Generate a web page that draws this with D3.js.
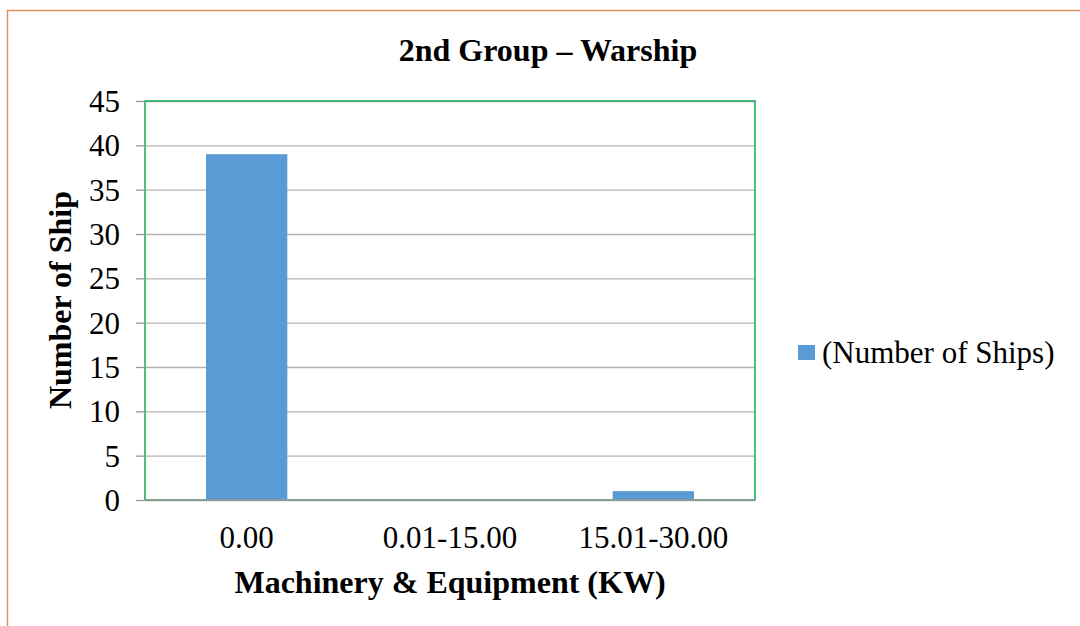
<!DOCTYPE html>
<html lang="en">
<head>
<meta charset="UTF-8">
<title>2nd Group - Warship</title>
<style>
  body { margin: 0; background: #fff; }
  svg text { font-family: "Liberation Serif", "Times New Roman", serif; fill: #000; }
  .grid line { stroke: #b3b3b3; stroke-width: 1.3; }
  .grid path { display: none; }
  .yaxis path { display: none; }
  .yaxis line { stroke: #9a9a9a; stroke-width: 1.3; }
  .xaxis path, .xaxis line { display: none; }
</style>
</head>
<body>
<div id="chart"></div>
<script src="https://cdnjs.cloudflare.com/ajax/libs/d3/7.8.5/d3.min.js"></script>
<script>
var categories = ["0.00", "0.01-15.00", "15.01-30.00"];
var ships = [39, 0, 1];
var yTicks = [0, 5, 10, 15, 20, 25, 30, 35, 40, 45];
var seriesName = "(Number of Ships)";

var W = 1080, H = 626;
var pLeft = 145, pTop = 101, pRight = 755, pBottom = 500;

var svg = d3.select("#chart").append("svg")
  .attr("width", W).attr("height", H);

// outer chart border
svg.append("rect")
  .attr("x", 7.5).attr("y", 10.5)
  .attr("width", W + 10).attr("height", H + 10)
  .attr("fill", "none").attr("stroke", "#de9160").attr("stroke-width", 1.5);

var x = d3.scaleBand().domain(categories).range([pLeft, pRight]).paddingInner(0.6).paddingOuter(0.3);
var y = d3.scaleLinear().domain([0, 45]).range([pBottom, pTop]);

// gridlines
svg.append("g").attr("class", "grid")
  .attr("transform", "translate(" + pLeft + ",0)")
  .call(d3.axisLeft(y).tickValues(yTicks).tickSize(-(pRight - pLeft)).tickFormat(""));

// plot frame
svg.append("rect")
  .attr("x", pLeft).attr("y", pTop)
  .attr("width", pRight - pLeft).attr("height", pBottom - pTop)
  .attr("fill", "none").attr("stroke", "#1fb060").attr("stroke-width", 1.6);

// bars
svg.selectAll("rect.bar").data(ships).enter().append("rect")
  .attr("class", "bar")
  .attr("x", function(d, i) { return x(categories[i]); })
  .attr("y", function(d) { return y(d); })
  .attr("width", x.bandwidth())
  .attr("height", function(d) { return y(0) - y(d); })
  .attr("fill", "#5b9bd5");

// y axis
var ya = svg.append("g").attr("class", "yaxis")
  .attr("transform", "translate(" + pLeft + ",0)")
  .call(d3.axisLeft(y).tickValues(yTicks).tickSize(9).tickPadding(16));
ya.selectAll("text").style("font-size", "31px").attr("dy", "0.34em");
svg.append("line")
  .attr("x1", pLeft).attr("x2", pRight).attr("y1", pBottom).attr("y2", pBottom)
  .attr("stroke", "#9a9a9a").attr("stroke-width", 1.3);

// x axis
var xa = svg.append("g").attr("class", "xaxis")
  .attr("transform", "translate(0," + pBottom + ")")
  .call(d3.axisBottom(x).tickSize(0).tickPadding(26));
xa.selectAll("text").style("font-size", "31px").attr("dy", "0.71em");

// titles
svg.append("text")
  .attr("x", 548).attr("y", 61)
  .attr("text-anchor", "middle")
  .style("font-size", "32px").style("font-weight", "bold")
  .text("2nd Group \u2013 Warship");

svg.append("text")
  .attr("x", 450).attr("y", 593)
  .attr("text-anchor", "middle")
  .style("font-size", "32px").style("font-weight", "bold")
  .text("Machinery & Equipment (KW)");

svg.append("text")
  .attr("transform", "translate(71,300) rotate(-90)")
  .attr("text-anchor", "middle")
  .style("font-size", "32px").style("font-weight", "bold")
  .text("Number of Ship");

// legend
var lg = svg.append("g").attr("transform", "translate(798,345)");
lg.append("rect").attr("width", 17).attr("height", 15).attr("fill", "#5b9bd5");
lg.append("text").attr("x", 24).attr("y", 18)
  .style("font-size", "31px").text(seriesName);
</script>
</body>
</html>
